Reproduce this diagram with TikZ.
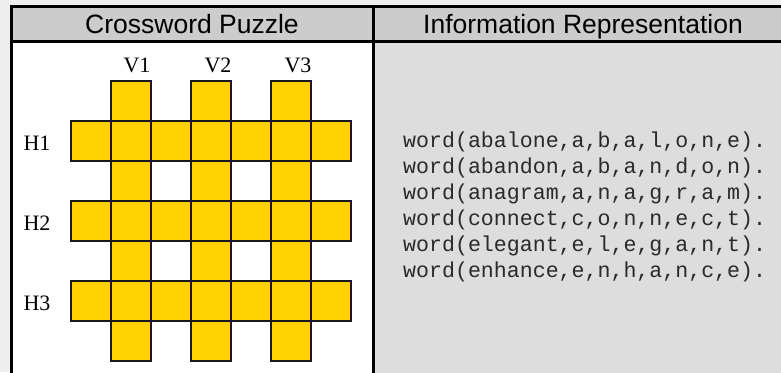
\documentclass[tikz,border=0pt]{standalone}
\usepackage{fontspec}
\setmainfont{Liberation Serif}
\newfontfamily\headfont{Liberation Sans}
\newfontfamily\codefont{Liberation Mono}
\definecolor{outerbg}{HTML}{EEEEEE}
\definecolor{headbg}{HTML}{CCCCCC}
\definecolor{codebg}{HTML}{DDDDDD}
\definecolor{cellyellow}{HTML}{FFD200}
\definecolor{codeink}{HTML}{2A2A2A}
\tikzset{
  frameline/.style={line width=3pt, draw=black},
  headtext/.style={font=\headfont\fontsize{26.5}{28}\selectfont, anchor=base, inner sep=0pt},
  cluelabel/.style={font=\fontsize{22}{24}\selectfont, anchor=base, inner sep=0pt},
  codeline/.style={font=\codefont\fontsize{21.6}{24}\selectfont, text=codeink, anchor=base west, inner sep=0pt},
  cell/.style={fill=cellyellow, draw=black!90, line width=1.3pt},
}
\begin{document}
\begin{tikzpicture}[x=1pt,y=-1pt]
\useasboundingbox (0,0) rectangle (781,372);
\clip (0,0) rectangle (781,372);
\fill[outerbg] (0,0) rectangle (781,372);
% panels
\fill[headbg] (11.5,6.5) rectangle (800,41.5);
\fill[white] (11.5,41.5) rectangle (373.5,380);
\fill[codebg] (373.5,41.5) rectangle (800,380);
\draw[frameline] (11.5,390) -- (11.5,6.5) -- (800,6.5);
\draw[frameline] (11.5,41.5) -- (800,41.5);
\draw[frameline] (373.5,6.5) -- (373.5,390);
% headers
\node[headtext] (hcross) at (192,33) {Crossword Puzzle};
\node[headtext] (hinfo) at (583,33) {Information Representation};
% grid cells
\foreach \i in {0,...,6}{
  \foreach \j in {0,...,6}{
    \pgfmathtruncatemacro{\vi}{mod(\i,2)}
    \pgfmathtruncatemacro{\vj}{mod(\j,2)}
    \ifnum\vi=1
      \draw[cell] (71+40*\i,81+40*\j) rectangle ++(40,40) node[coordinate] (c\i\j) {};
    \else
      \ifnum\vj=1
        \draw[cell] (71+40*\i,81+40*\j) rectangle ++(40,40) node[coordinate] (c\i\j) {};
      \fi
    \fi
  }
}
% labels
\node[cluelabel] (v1) at (137,72) {V1};
\node[cluelabel] (v2) at (218,72) {V2};
\node[cluelabel] (v3) at (298,72) {V3};
\node[cluelabel] (h1) at (37,150) {H1};
\node[cluelabel] (h2) at (37,230) {H2};
\node[cluelabel] (h3) at (37,310) {H3};
% code
\node[codeline] (w1) at (403,147) {word(abalone,a,b,a,l,o,n,e).};
\node[codeline] (w2) at (403,173) {word(abandon,a,b,a,n,d,o,n).};
\node[codeline] (w3) at (403,199) {word(anagram,a,n,a,g,r,a,m).};
\node[codeline] (w4) at (403,225) {word(connect,c,o,n,n,e,c,t).};
\node[codeline] (w5) at (403,251) {word(elegant,e,l,e,g,a,n,t).};
\node[codeline] (w6) at (403,277) {word(enhance,e,n,h,a,n,c,e).};
\end{tikzpicture}
\end{document}
